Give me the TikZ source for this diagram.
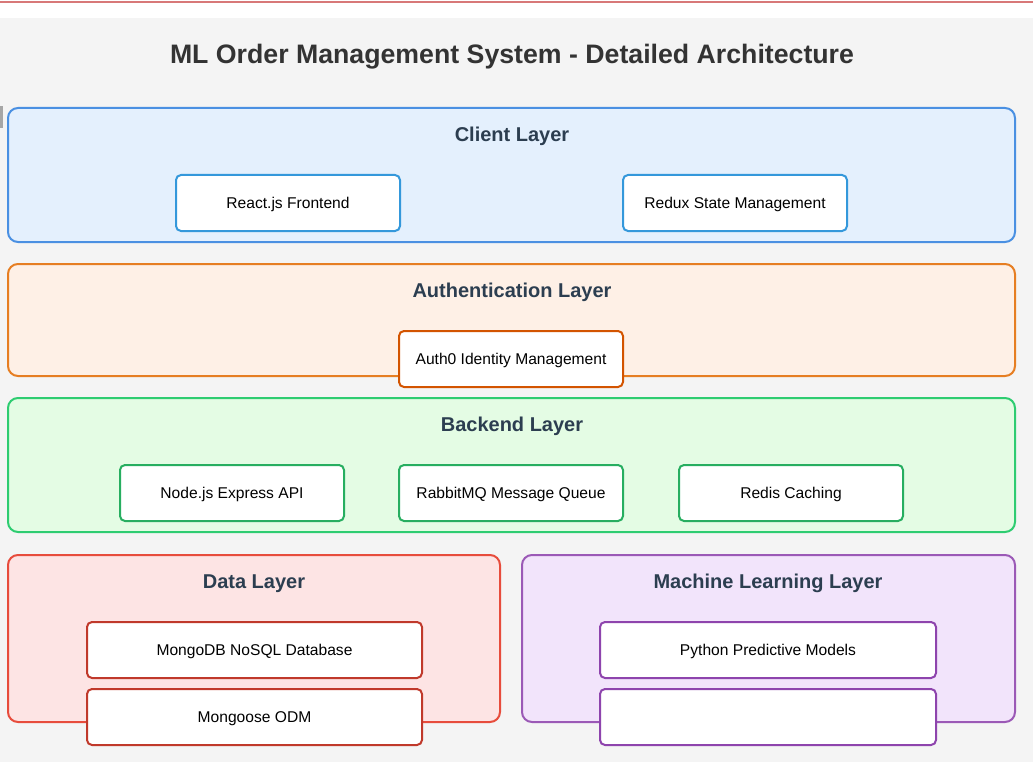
\documentclass[tikz,border=0pt]{standalone}
\usepackage{fontspec}
\setmainfont{Liberation Sans}
\definecolor{bgc}{HTML}{F4F4F4}
\definecolor{topline}{HTML}{D87878}
\definecolor{ttl}{HTML}{333333}
\definecolor{ltl}{HTML}{2C3E50}
\definecolor{cfill}{HTML}{E4F0FD}\definecolor{cdraw}{HTML}{4A90E2}\definecolor{cbox}{HTML}{3498DB}
\definecolor{afill}{HTML}{FEF0E6}\definecolor{adraw}{HTML}{E67E22}\definecolor{abox}{HTML}{D35400}
\definecolor{bfill}{HTML}{E4FCE4}\definecolor{bdraw}{HTML}{2ECC71}\definecolor{bbox}{HTML}{27AE60}
\definecolor{dfill}{HTML}{FDE4E4}\definecolor{ddraw}{HTML}{E74C3C}\definecolor{dbox}{HTML}{C0392B}
\definecolor{mfill}{HTML}{F2E4FB}\definecolor{mdraw}{HTML}{9B59B6}\definecolor{mbox}{HTML}{8E44AD}
\tikzset{
  layer/.style={rounded corners=10pt, line width=2pt},
  comp/.style={draw, fill=white, rounded corners=5pt, line width=2pt, minimum height=56pt, inner sep=0pt, text height=14.1pt, text depth=3.3pt, font=\fontsize{15.6}{18}\selectfont, text=black},
  ltitle/.style={font=\fontsize{20}{24}\selectfont\bfseries, text=ltl, inner sep=0pt, text height=18.1pt, text depth=4.24pt},
}
\begin{document}
\begin{tikzpicture}[x=1pt,y=-1pt]
\useasboundingbox (0,0) rectangle (1033,762);
\fill[white] (0,0) rectangle (1033,18);
\fill[bgc] (0,18) rectangle (1033,762);
\draw[topline, line width=2pt] (0,2) -- (1033,2);
\fill[gray!70] (0,106) rectangle (3,128);
\node[font=\fontsize{26.7}{32}\selectfont\bfseries, text=ttl, inner sep=0pt, text height=24.2pt, text depth=5.7pt] (title) at (512,54) {ML Order Management System - Detailed Architecture};
% client
\draw[layer, draw=cdraw, fill=cfill] (8,108) rectangle (1015,242);
\node[ltitle] (clientT) at (512,135) {Client Layer};
\node[comp, draw=cbox, minimum width=224pt] (react) at (288,203) {React.js Frontend};
\node[comp, draw=cbox, minimum width=224pt] (redux) at (735,203) {Redux State Management};
% auth
\draw[layer, draw=adraw, fill=afill] (8,264) rectangle (1015,376);
\node[ltitle] (authT) at (512,291) {Authentication Layer};
\node[comp, draw=abox, minimum width=224pt] (auth0) at (511,359) {Auth0 Identity Management};
% backend
\draw[layer, draw=bdraw, fill=bfill] (8,398) rectangle (1015,532);
\node[ltitle] (backT) at (512,425) {Backend Layer};
\node[comp, draw=bbox, minimum width=224pt] (node) at (232,493) {Node.js Express API};
\node[comp, draw=bbox, minimum width=224pt] (rabbit) at (511,493) {RabbitMQ Message Queue};
\node[comp, draw=bbox, minimum width=224pt] (redis) at (791,493) {Redis Caching};
% data
\draw[layer, draw=ddraw, fill=dfill] (8,555) rectangle (500,722);
\node[ltitle] (dataT) at (254,582) {Data Layer};
\node[comp, draw=dbox, minimum width=335pt] (mongo) at (254.5,650) {MongoDB NoSQL Database};
\node[comp, draw=dbox, minimum width=335pt] (mongoose) at (254.5,717) {Mongoose ODM};
% ml
\draw[layer, draw=mdraw, fill=mfill] (522,555) rectangle (1015,722);
\node[ltitle] (mlT) at (768,582) {Machine Learning Layer};
\node[comp, draw=mbox, minimum width=336pt] (python) at (768,650) {Python Predictive Models};
\node[comp, draw=mbox, minimum width=336pt] (empty) at (768,717) {};
\end{tikzpicture}
\end{document}
